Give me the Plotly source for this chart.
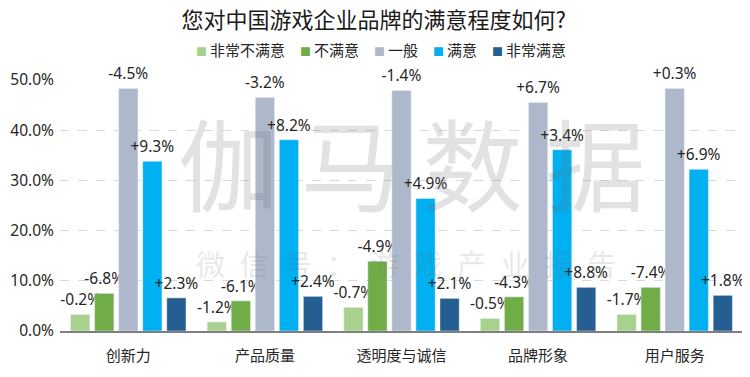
import plotly.graph_objects as go

categories = ["创新力", "产品质量", "透明度与诚信", "品牌形象", "用户服务"]
series_names = ["非常不满意", "不满意", "一般", "满意", "非常满意"]
very_dissatisfied = [3.3, 1.8, 4.7, 2.5, 3.3]
dissatisfied = [7.5, 6.0, 13.9, 6.8, 8.7]
neutral = [48.3, 46.5, 47.9, 45.5, 48.3]
satisfied = [33.8, 38.1, 26.4, 36.1, 32.2]
very_satisfied = [6.6, 6.9, 6.5, 8.7, 7.1]
labels_very_dissatisfied = ["-0.2%", "-1.2%", "-0.7%", "-0.5%", "-1.7%"]
labels_dissatisfied = ["-6.8%", "-6.1%", "-4.9%", "-4.3%", "-7.4%"]
labels_neutral = ["-4.5%", "-3.2%", "-1.4%", "+6.7%", "+0.3%"]
labels_satisfied = ["+9.3%", "+8.2%", "+4.9%", "+3.4%", "+6.9%"]
labels_very_satisfied = ["+2.3%", "+2.4%", "+2.1%", "+8.8%", "+1.8%"]
y_ticks = [0, 10, 20, 30, 40, 50]
y_tick_labels = ["0.0%", "10.0%", "20.0%", "30.0%", "40.0%", "50.0%"]

colors = ["#a9d18e", "#70ad47", "#adb9ca", "#00b0f0", "#255e91"]
values = [very_dissatisfied, dissatisfied, neutral, satisfied, very_satisfied]
labels = [labels_very_dissatisfied, labels_dissatisfied, labels_neutral,
          labels_satisfied, labels_very_satisfied]

FONT = "Noto Sans CJK SC"
NUMFONT = "Noto Sans"


def label_html(t):
    # label text followed by a tiny blank line to lift it slightly off the bar
    return f"<span style='font-size:15.5px'>{t}</span><br><span style='font-size:4px'>\u00a0</span>"


fig = go.Figure()
for name, vals, txt, col in zip(series_names, values, labels, colors):
    fig.add_trace(go.Bar(
        x=categories, y=vals, name=name, marker_color=col,
        text=[label_html(t) for t in txt], textposition="outside", constraintext="none",
        cliponaxis=False,
        textfont=dict(size=4, color="#262626", family=NUMFONT),
        hoverinfo="skip", showlegend=False,
    ))

# legend drawn as text with coloured square glyphs, built from the series lists
legend_parts = []
for name, col in zip(series_names, colors):
    legend_parts.append(
        f"<span style='font-size:11px;color:{col}'>■</span>\u2009{name}")
legend_text = "\u2003".join(legend_parts)

# the page body adds an 8px margin, so the figure is sized to fit the 750x377 window
fig.update_layout(
    width=742, height=369,
    margin=dict(l=52, r=7, t=72, b=46, autoexpand=False),
    paper_bgcolor="white", plot_bgcolor="white",
    barmode="group", bargap=0.12, bargroupgap=0.2,
    font=dict(family=FONT, color="#262626"),
    title=dict(text="您对中国游戏企业品牌的满意程度如何?", x=0.493, xanchor="center",
               y=0.968, yanchor="middle", font=dict(size=22, color="#1a1a1a", family=FONT)),
    showlegend=False,
)
fig.add_annotation(text=legend_text, x=0.47, y=1.1235, xref="paper", yref="paper",
                   xanchor="center", yanchor="middle", showarrow=False,
                   font=dict(size=15, color="#262626", family=FONT))

fig.update_yaxes(range=[0, 50], tickvals=y_ticks, ticktext=y_tick_labels,
                 showgrid=True, gridcolor="#d9d9d9", griddash="dash", zeroline=False,
                 tickfont=dict(size=15.5, color="#262626", family=NUMFONT), ticks="",
                 ticklabelstandoff=5, showline=False, automargin=False)
fig.update_xaxes(showline=True, linecolor="#7f7f7f", linewidth=1.5, ticks="",
                 ticklabelstandoff=10,
                 tickfont=dict(size=15, color="#262626", family=FONT), automargin=False)

# watermark
fig.add_annotation(text="伽 马 数 据", x=0.515, y=0.68, xref="paper", yref="paper",
                   yanchor="middle", showarrow=False,
                   font=dict(size=100, color="rgba(110,110,110,0.2)", family=FONT))
fig.add_annotation(text="\u2002".join("微信号：游戏产业报告"), x=0.508, y=0.27,
                   xref="paper", yref="paper", yanchor="middle", showarrow=False,
                   font=dict(size=29, color="rgba(110,110,110,0.16)", family=FONT))

fig.write_html("out.html")
